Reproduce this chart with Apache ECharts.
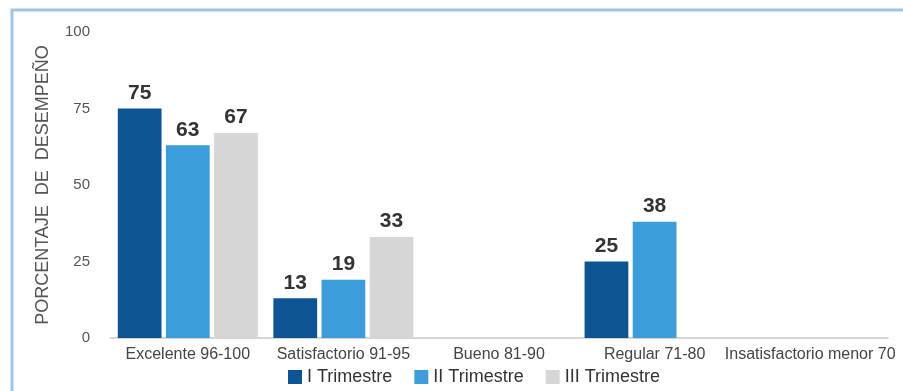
<!DOCTYPE html>
<html>
<head>
<meta charset="utf-8">
<script src="https://cdn.jsdelivr.net/npm/echarts@6/dist/echarts.min.js"></script>
<style>
  html, body { margin: 0; padding: 0; background: #fff; }
  #chart { width: 903px; height: 391px; }
</style>
</head>
<body>
<div id="chart"></div>
<script>
// categorias y valores
var categorias = ['Excelente 96-100', 'Satisfactorio 91-95', 'Bueno 81-90', 'Regular 71-80', 'Insatisfactorio menor 70'];
var trimestre1 = [75, 13, 0, 25, 0];
var trimestre2 = [63, 19, 0, 38, 0];
var trimestre3 = [67, 33, 0, 0, 0];
var nombres = ['I Trimestre', 'II Trimestre', 'III Trimestre'];
var colores = ['#0d5493', '#3d9ddb', '#d6d6d6'];

var myChart = echarts.init(document.getElementById('chart'));

// etiqueta encima de cada barra, sin mostrar los ceros
var etiqueta = {
  show: true,
  position: 'top',
  distance: 5,
  fontFamily: 'Liberation Sans',
  fontWeight: 'bold',
  fontSize: 21,
  color: '#333',
  formatter: function (p) { return p.value === 0 ? '' : p.value; }
};

function serie(i, datos) {
  return {
    name: nombres[i],
    type: 'bar',
    data: datos,
    barGap: '10%',
    barCategoryGap: '10%',
    itemStyle: { color: colores[i] },
    label: etiqueta
  };
}

var option = {
  animation: false,
  color: colores,
  graphic: [{
    type: 'rect',
    shape: { x: 12, y: 10, width: 1000, height: 1000 },
    style: { fill: 'none', stroke: '#9fc5e8', lineWidth: 3 }
  }],
  legend: {
    data: nombres,
    bottom: 0,
    left: 283,
    itemWidth: 14,
    itemHeight: 14,
    itemGap: 22,
    icon: 'rect',
    textStyle: { fontFamily: 'Liberation Sans', fontSize: 18, color: '#333' }
  },
  grid: { left: 110, right: 15, top: 32, bottom: 53 },
  xAxis: {
    type: 'category',
    data: categorias,
    axisLine: { lineStyle: { color: '#c8c8c8', width: 1.5 } },
    axisTick: { show: false },
    axisLabel: { fontFamily: 'Liberation Sans', fontSize: 16, color: '#444', margin: 9, interval: 0 }
  },
  yAxis: {
    type: 'value',
    min: 0,
    max: 100,
    interval: 25,
    name: 'PORCENTAJE  DE  DESEMPEÑO',
    nameLocation: 'middle',
    nameGap: 58,
    nameTextStyle: { fontFamily: 'Liberation Sans', fontSize: 18, color: '#555' },
    axisLine: { show: false },
    axisTick: { show: false },
    splitLine: { show: false },
    axisLabel: { fontFamily: 'Liberation Sans', fontSize: 15, color: '#555', margin: 20 }
  },
  series: [serie(0, trimestre1), serie(1, trimestre2), serie(2, trimestre3)]
};

myChart.setOption(option);
</script>
</body>
</html>
